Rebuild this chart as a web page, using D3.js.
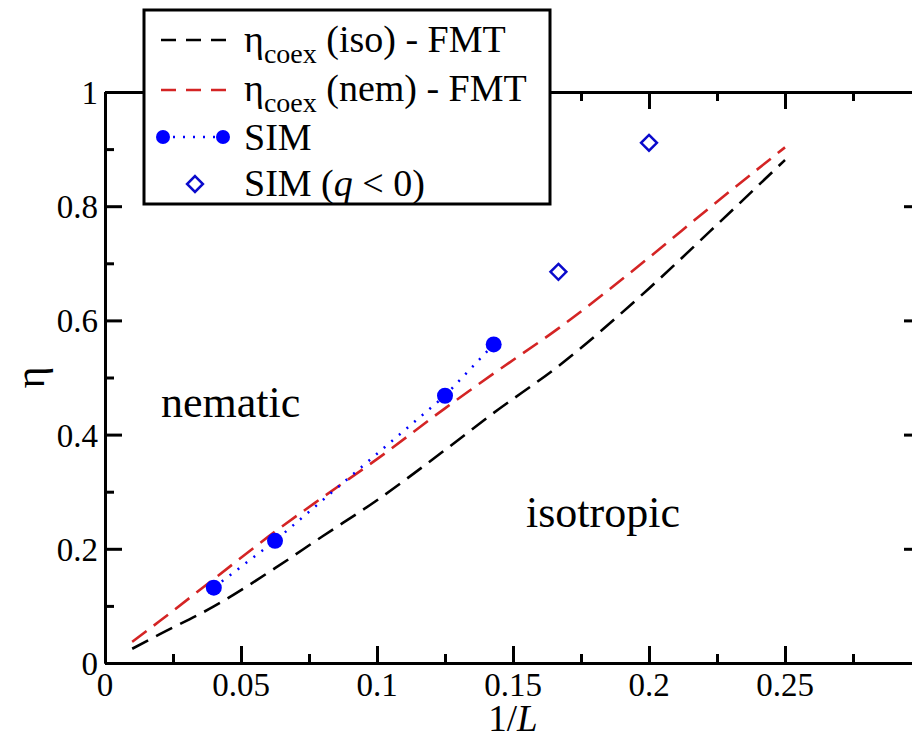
<!DOCTYPE html>
<html>
<head>
  <meta charset="UTF-8">
  <script src="https://d3js.org/d3.v7.min.js"></script>
</head>
<body style="margin:0">
<svg id="plot" width="912" height="739"></svg>
<script>
  // 1/L values where the FMT coexistence curves were read
  const invL=[0.01,0.02,0.04,0.0625,0.08,0.1,0.125,0.1429,0.1667,0.2,0.2222,0.25];
  const etaIso=[0.025,0.050,0.099,0.166,0.222,0.285,0.373,0.438,0.52,0.656,0.755,0.881];
  const etaNem=[0.037,0.073,0.147,0.23,0.29,0.357,0.446,0.507,0.586,0.71,0.797,0.903];

  // simulation points
  const simX=[0.04,0.0625,0.125,0.1429];
  const simEta=[0.132,0.214,0.468,0.558];
  const simNegX=[0.1667,0.2];
  const simNegEta=[0.685,0.911];

  const xMajor=[0,0.05,0.1,0.15,0.2,0.25,0.3];
  const xMinor=[0.025,0.075,0.125,0.175,0.225,0.275];
  const xLabels=['0','0.05','0.1','0.15','0.2','0.25',''];
  const yMajor=[0,0.2,0.4,0.6,0.8,1];
  const yMinor=[0.1,0.3,0.5,0.7,0.9];
  const yLabels=['0','0.2','0.4','0.6','0.8','1'];

  const margin={top: 92,left: 105,right: 921,bottom: 663};
  const serif='Liberation Serif';

  const svg=d3.select('#plot');

  const x=d3.scaleLinear().domain([0,0.3]).range([margin.left,margin.right]);
  const y=d3.scaleLinear().domain([0,1]).range([margin.bottom,margin.top]);

  function addLabel(px,py,size,txt){
    return svg.append('text').attr('x',px).attr('y',py)
      .attr('font-family',serif)
      .style('font-family',serif,'important')
      .attr('font-size',size).text(txt);
  }
  function addTicks(axis,tx,ty){
    svg.append('g').attr('transform',`translate(${tx},${ty})`).call(axis)
      .call(g => g.selectAll('line,path').attr('stroke','#000').attr('stroke-width',3))
      .call(g => g.selectAll('text').remove());
  }

  // frame and ticks, all pointing inwards
  addTicks(d3.axisBottom(x).tickValues(xMinor).tickSize(-9).tickSizeOuter(0),0,margin.bottom);
  addTicks(d3.axisBottom(x).tickValues(xMajor).tickSize(-17).tickSizeOuter(0),0,margin.bottom);
  addTicks(d3.axisTop(x).tickValues(xMinor).tickSize(-9).tickSizeOuter(0),0,margin.top);
  addTicks(d3.axisTop(x).tickValues(xMajor).tickSize(-17).tickSizeOuter(0),0,margin.top);
  addTicks(d3.axisLeft(y).tickValues(yMinor).tickSize(-9).tickSizeOuter(0),margin.left,0);
  addTicks(d3.axisLeft(y).tickValues(yMajor).tickSize(-17).tickSizeOuter(0),margin.left,0);
  addTicks(d3.axisRight(y).tickValues(yMinor).tickSize(-9).tickSizeOuter(0),margin.right,0);
  addTicks(d3.axisRight(y).tickValues(yMajor).tickSize(-17).tickSizeOuter(0),margin.right,0);

  // tick labels
  xMajor.forEach((v,i) => {
    if(xLabels[i]) addLabel(x(v),696,'33px',xLabels[i]).attr('text-anchor','middle');
  });
  yMajor.forEach((v,i) => {
    addLabel(98,y(v)+12,'33px',yLabels[i]).attr('text-anchor','end');
  });

  // axis titles
  const xTitle=addLabel((margin.left+margin.right)/2,731,'37px','1/').attr('text-anchor','middle');
  xTitle.append('tspan').attr('font-style','italic').text('L');

  addLabel(0,0,'42px','η')
    .attr('transform',`translate(44,${(margin.top+margin.bottom)/2}) rotate(-90)`)
    .attr('text-anchor','middle');

  // region labels
  addLabel(161,417,'44px','nematic');
  addLabel(526,527,'44px','isotropic');

  const line=d3.line().x(d => x(d[0])).y(d => y(d[1])).curve(d3.curveMonotoneX);

  svg.append('path')
    .datum(d3.zip(invL,etaIso))
    .attr('d',line)
    .attr('fill','none')
    .attr('stroke','#000')
    .attr('stroke-width',2.6)
    .attr('stroke-dasharray','18,9');

  svg.append('path')
    .datum(d3.zip(invL,etaNem))
    .attr('d',line)
    .attr('fill','none')
    .attr('stroke','#d42424')
    .attr('stroke-width',2.6)
    .attr('stroke-dasharray','18,9');

  const simData=d3.zip(simX,simEta);
  svg.append('path')
    .datum(simData)
    .attr('d',d3.line().x(d => x(d[0])).y(d => y(d[1])))
    .attr('fill','none')
    .attr('stroke','#0000ff')
    .attr('stroke-width',2.5)
    .attr('stroke-dasharray','2,8');

  svg.append('g')
    .selectAll('circle')
    .data(simData)
    .join('circle')
    .attr('cx',d => x(d[0]))
    .attr('cy',d => y(d[1]))
    .attr('r',8)
    .attr('fill','#0000ff');

  const diamond=d3.symbol().type(d3.symbolDiamond2).size(160);
  svg.append('g')
    .selectAll('path')
    .data(d3.zip(simNegX,simNegEta))
    .join('path')
    .attr('d',diamond)
    .attr('transform',d => `translate(${x(d[0])},${y(d[1])})`)
    .attr('fill','#fff')
    .attr('stroke','#0a0acc')
    .attr('stroke-width',2.5);

  // legend
  svg.append('rect')
    .attr('x',144).attr('y',10).attr('width',406).attr('height',194)
    .attr('fill','#fff').attr('stroke','#000').attr('stroke-width',3);

  const lx0=161, lx1=227, tx=244;
  svg.append('line').attr('x1',lx0).attr('x2',lx1).attr('y1',40).attr('y2',40)
    .attr('stroke','#000').attr('stroke-width',2.6).attr('stroke-dasharray','15,10');
  svg.append('line').attr('x1',lx0).attr('x2',lx1).attr('y1',90).attr('y2',90)
    .attr('stroke','#d42424').attr('stroke-width',2.6).attr('stroke-dasharray','15,10');
  svg.append('line').attr('x1',lx0+2).attr('x2',lx1-4).attr('y1',137).attr('y2',137)
    .attr('stroke','#0000ff').attr('stroke-width',2.5).attr('stroke-dasharray','2,8');
  svg.append('circle').attr('cx',lx0+2).attr('cy',137).attr('r',7).attr('fill','#0000ff');
  svg.append('circle').attr('cx',lx1-4).attr('cy',137).attr('r',7).attr('fill','#0000ff');
  svg.append('path').attr('d',diamond)
    .attr('transform','translate(195,184)')
    .attr('fill','#fff').attr('stroke','#0a0acc').attr('stroke-width',2.5);

  // legend rows built from parts: [text, kind]
  const legendRows=[
    {y: 52,parts: [['η','n'],['coex','sub'],[' (iso) - FMT','up']]},
    {y: 101,parts: [['η','n'],['coex','sub'],[' (nem) - FMT','up']]},
    {y: 150,parts: [['SIM','n']]},
    {y: 196,parts: [['SIM (','n'],['q','it'],[' < 0)','n']]}
  ];
  legendRows.forEach(row => {
    const t=addLabel(tx,row.y,'38px','');
    row.parts.forEach(p => {
      const s=t.append('tspan').text(p[0]);
      if(p[1] === 'sub') s.attr('font-size','28px').attr('dy',11);
      if(p[1] === 'up') s.attr('dy',-11);
      if(p[1] === 'it') s.attr('font-style','italic');
    });
  });
</script>
</body>
</html>
